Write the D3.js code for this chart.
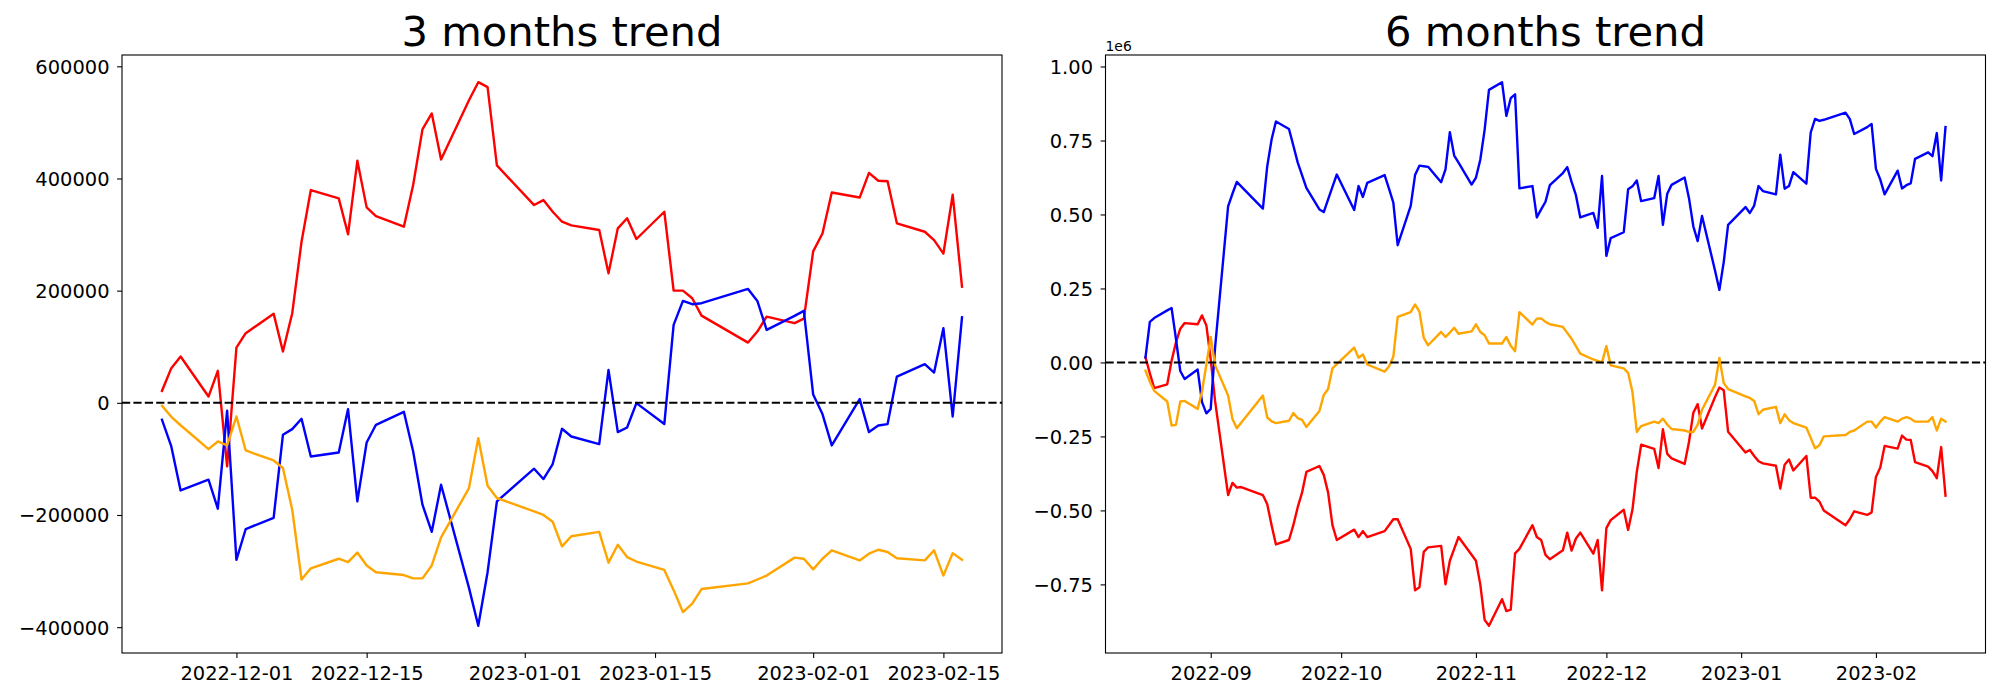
<!DOCTYPE html>
<html>
<head>
<meta charset="utf-8">
<script src="https://cdn.jsdelivr.net/npm/d3@7/dist/d3.min.js"></script>
<style>
  body { margin: 0; background: #fff; }
  text { font-family: "DejaVu Sans", sans-serif; }
</style>
</head>
<body>
<svg id="chart" width="2000" height="700"></svg>
<script>
// ---- 3 months panel ----
const dates3m = ['2022-11-23','2022-11-24','2022-11-25','2022-11-28','2022-11-29','2022-11-30',
  '2022-12-01','2022-12-02','2022-12-05','2022-12-06','2022-12-07','2022-12-08','2022-12-09',
  '2022-12-12','2022-12-13','2022-12-14','2022-12-15','2022-12-16','2022-12-19','2022-12-20',
  '2022-12-21','2022-12-22','2022-12-23','2022-12-26','2022-12-27','2022-12-28','2022-12-29',
  '2023-01-02','2023-01-03','2023-01-04','2023-01-05','2023-01-06','2023-01-09','2023-01-10',
  '2023-01-11','2023-01-12','2023-01-13','2023-01-16','2023-01-17','2023-01-18','2023-01-19',
  '2023-01-20','2023-01-25','2023-01-26','2023-01-27','2023-01-30','2023-01-31','2023-02-01',
  '2023-02-02','2023-02-03','2023-02-06','2023-02-07','2023-02-08','2023-02-09','2023-02-10',
  '2023-02-13','2023-02-14','2023-02-15','2023-02-16','2023-02-17'];

const red3m = [21400, 61800, 82500, 11200, 57000, -113400,
  98500, 124100, 159000, 91400, 159800, 287300, 379400,
  364600, 300500, 431500, 348500, 333000, 314000, 388300,
  487500, 516000, 434000, 539600, 571700, 562800, 423300,
  352600, 361500, 340700, 322900, 316500, 308100, 231000,
  311100, 329000, 292100, 340700, 200000, 200000, 186500,
  155500, 107400, 127000, 153700, 142000, 150000, 270000,
  302000, 375000, 366000, 410000, 396000, 395000, 320000,
  305000, 290000, 266000, 371000, 207000];

const blue3m = [-30300, -77800, -156200, -137100, -188800, -14200,
  -280000, -225000, -205000, -57000, -46900, -28500, -95600,
  -88500, -11200, -175800, -70700, -39200, -16000, -86700,
  -181700, -230000, -146000, -330000, -397600, -302000, -175800,
  -117500, -135900, -109200, -46300, -60000, -73600, 58800,
  -52200, -44000, -500, -37900, 138900, 181700, 175800,
  177600, 203000, 181700, 130000, 155000, 164000, 15000,
  -20000, -76000, 6600, -52200, -40400, -37900, 46800,
  68900, 54000, 133000, -24400, 152600];

const orange3m = [-5300, -25000, -40000, -82500, -68900, -76000,
  -24400, -85000, -102800, -116300, -190600, -315000, -295000,
  -278000, -284000, -267000, -290000, -302000, -307000, -313000,
  -313000, -290000, -240000, -152000, -62900, -147800, -169700,
  -193600, -200000, -212000, -256000, -238000, -230000, -285000,
  -253000, -275000, -283000, -298000, -334000, -373000, -358000,
  -332000, -322000, -315000, -308000, -276000, -278000, -297000,
  -278000, -263000, -281000, -269000, -262000, -266000, -277000,
  -281000, -263000, -308000, -268000, -280000];

const xTicks3m = ['2022-12-01','2022-12-15','2023-01-01','2023-01-15','2023-02-01','2023-02-15'];
const yTicks3m = [-400000, -200000, 0, 200000, 400000, 600000];

// ---- 6 months panel ----
const dates6m = ['2022-08-17','2022-08-18','2022-08-19','2022-08-22','2022-08-23','2022-08-24',
  '2022-08-25','2022-08-26','2022-08-29','2022-08-30','2022-08-31',
  '2022-09-01','2022-09-02','2022-09-05','2022-09-06','2022-09-07','2022-09-08','2022-09-13',
  '2022-09-14','2022-09-15','2022-09-16','2022-09-19','2022-09-20','2022-09-21','2022-09-22',
  '2022-09-23','2022-09-26','2022-09-27','2022-09-28','2022-09-29','2022-09-30',
  '2022-10-04','2022-10-05','2022-10-06','2022-10-07','2022-10-11','2022-10-12','2022-10-13',
  '2022-10-14','2022-10-17','2022-10-18','2022-10-19','2022-10-20','2022-10-21','2022-10-24',
  '2022-10-25','2022-10-26','2022-10-27','2022-10-28','2022-10-31',
  '2022-11-01','2022-11-02','2022-11-03','2022-11-04','2022-11-07','2022-11-08','2022-11-09',
  '2022-11-10','2022-11-11','2022-11-14','2022-11-15','2022-11-16','2022-11-17','2022-11-18',
  '2022-11-21','2022-11-22','2022-11-23','2022-11-24','2022-11-25','2022-11-28','2022-11-29',
  '2022-11-30',
  '2022-12-01','2022-12-02','2022-12-05','2022-12-06','2022-12-07','2022-12-08','2022-12-09',
  '2022-12-12','2022-12-13','2022-12-14','2022-12-15','2022-12-16','2022-12-19','2022-12-20',
  '2022-12-21','2022-12-22','2022-12-23','2022-12-26','2022-12-27','2022-12-28','2022-12-29',
  '2023-01-02','2023-01-03','2023-01-04','2023-01-05','2023-01-06','2023-01-09','2023-01-10',
  '2023-01-11','2023-01-12','2023-01-13','2023-01-16','2023-01-17','2023-01-18','2023-01-19',
  '2023-01-20','2023-01-25','2023-01-26','2023-01-27','2023-01-30','2023-01-31',
  '2023-02-01','2023-02-02','2023-02-03','2023-02-06','2023-02-07','2023-02-08','2023-02-09',
  '2023-02-10','2023-02-13','2023-02-14','2023-02-15','2023-02-16','2023-02-17'];

const blue6m = [17000, 137000, 150000, 176000, 184000, 80000, -29000, -56000, -24000, -134000, -172000,
  -157000, 50000, 527000, 570000, 610000, 595000, 520000, 663000, 753000, 814000, 789000, 733000,
  676000, 633000, 590000, 517000, 508000, 551000, 593000, 635000,
  515000, 596000, 559000, 607000, 633000, 587000, 540000, 396000, 529000, 633000, 665000, 663000,
  661000, 609000, 652000, 778000, 699000, 675000, 601000,
  624000, 685000, 786000, 921000, 947000, 833000, 893000, 906000, 588000, 596000, 490000, 517000,
  543000, 599000, 640000, 660000, 610000, 565000, 490000, 505000, 455000, 630000,
  360000, 420000, 440000, 585000, 595000, 615000, 545000, 555000, 630000, 465000, 570000, 600000,
  625000, 555000, 460000, 410000, 495000, 310000, 245000, 340000, 465000,
  525000, 505000, 530000, 596000, 579000, 568000, 702000, 587000, 596000, 643000, 604000, 777000,
  823000, 816000, 820000, 844000, 822000, 772000, 795000, 806000,
  654000, 618000, 568000, 648000, 588000, 599000, 605000, 688000, 710000, 697000, 775000, 615000, 795000];

const red6m = [17000, -37000, -87000, -74000, 6000, 67000, 114000, 133000, 129000, 159000, 125000,
  10000, -130000, -448000, -407000, -423000, -421000, -448000, -479000, -550000, -615000, -600000,
  -550000, -490000, -440000, -370000, -350000, -380000, -440000, -550000, -600000,
  -565000, -590000, -570000, -590000, -570000, -550000, -530000, -530000, -630000, -770000, -760000,
  -640000, -625000, -620000, -750000, -670000, -630000, -590000, -650000,
  -670000, -750000, -870000, -890000, -800000, -840000, -835000, -645000, -630000, -550000, -590000,
  -600000, -650000, -665000, -635000, -575000, -636000, -595000, -575000, -646000, -600000, -770000,
  -560000, -533000, -498000, -566000, -497000, -370000, -278000, -292000, -357000, -226000, -309000,
  -324000, -343000, -269000, -170000, -141000, -223000, -117000, -85000, -94000, -234000,
  -304000, -296000, -316000, -334000, -341000, -349000, -426000, -346000, -328000, -365000, -316000,
  -457000, -457000, -470000, -500000, -550000, -530000, -503000, -515000, -507000,
  -387000, -355000, -282000, -291000, -247000, -261000, -262000, -337000, -352000, -367000, -391000,
  -286000, -450000];

const orange6m = [-28000, -65000, -96000, -132000, -213000, -211000, -132000, -130000, -157000, -98000, -7000,
  86000, -9000, -112000, -191000, -222000, -204000, -112000, -186000, -199000, -205000, -197000,
  -171000, -188000, -194000, -218000, -164000, -110000, -90000, -20000, -6000,
  50000, 16000, 27000, -7000, -31000, -14000, 19000, 154000, 170000, 196000, 172000, 83000,
  58000, 103000, 86000, 101000, 117000, 97000, 105000,
  129000, 103000, 92000, 64000, 64000, 86000, 56000, 38000, 170000, 128000, 148000, 149000,
  137000, 129000, 120000, 100000, 80000, 55000, 30000, 10000, 5000, 0,
  55000, -10000, -20000, -35000, -100000, -235000, -215000, -200000, -205000, -190000, -210000,
  -225000, -230000, -235000, -235000, -210000, -160000, -75000, 15000, -70000, -90000,
  -115000, -120000, -130000, -175000, -160000, -150000, -205000, -175000, -195000, -205000, -220000,
  -255000, -290000, -280000, -250000, -245000, -235000, -230000, -200000, -200000,
  -220000, -200000, -185000, -200000, -190000, -185000, -190000, -200000, -200000, -185000, -230000,
  -190000, -200000];

const xTicks6m = ['2022-09-01','2022-10-01','2022-11-01','2022-12-01','2023-01-01','2023-02-01'];
const yTicks6m = [-750000, -500000, -250000, 0, 250000, 500000, 750000, 1000000];

const seriesColors = ['red', 'blue', 'orange'];

// ---- layout (matplotlib-like) ----
const axTop = 55, axBottom = 653;
const fontSize = 19.44;
const parseDate = d3.timeParse('%Y-%m-%d');

const panels = [
  { title: '3 months trend', left: 122, right: 1002, dates: dates3m,
    series: [red3m, blue3m, orange3m], xTicks: xTicks3m, xFormat: d3.timeFormat('%Y-%m-%d'),
    yTicks: yTicks3m, yFormat: d3.format('d'), offsetLabel: null },
  { title: '6 months trend', left: 1105.5, right: 1985.5, dates: dates6m,
    series: [red6m, blue6m, orange6m], xTicks: xTicks6m, xFormat: d3.timeFormat('%Y-%m'),
    yTicks: yTicks6m, yFormat: v => d3.format('.2f')(v / 1e6), offsetLabel: '1e6' }
];

const svg = d3.select('#chart');

function padded(ext) {
  const m = (ext[1] - ext[0]) * 0.05;
  return [ext[0] - m, ext[1] + m];
}

panels.forEach((p, i) => {
  const dates = p.dates.map(parseDate);
  const xExt = padded(d3.extent(dates, d => +d));
  const yExt = padded(d3.extent(p.series.flat()));

  const x = d3.scaleTime().domain(xExt.map(v => new Date(v))).range([p.left, p.right]);
  const y = d3.scaleLinear().domain(yExt).range([axBottom, axTop]);

  const g = svg.append('g').attr('class', 'panel');

  g.append('clipPath').attr('id', 'clip' + i)
    .append('rect')
    .attr('x', p.left).attr('y', axTop)
    .attr('width', p.right - p.left).attr('height', axBottom - axTop);

  const plot = g.append('g').attr('clip-path', `url(#clip${i})`);

  const line = d3.line()
    .x((d, k) => x(dates[k]))
    .y(d => y(d));

  p.series.forEach((vals, s) => {
    plot.append('path')
      .datum(vals)
      .attr('d', line)
      .attr('fill', 'none')
      .attr('stroke', seriesColors[s])
      .attr('stroke-width', 2.4)
      .attr('stroke-linejoin', 'round')
      .attr('stroke-linecap', 'square');
  });

  // zero line
  plot.append('line')
    .attr('x1', p.left).attr('x2', p.right)
    .attr('y1', y(0)).attr('y2', y(0))
    .attr('stroke', 'black')
    .attr('stroke-width', 2.1)
    .attr('stroke-dasharray', '8.2,3.2');

  // axes
  const xAxis = d3.axisBottom(x)
    .tickValues(p.xTicks.map(parseDate))
    .tickFormat(p.xFormat)
    .tickSize(4.9).tickPadding(7.8);
  const yAxis = d3.axisLeft(y)
    .tickValues(p.yTicks)
    .tickFormat(p.yFormat)
    .tickSize(4.9).tickPadding(7.6);

  const gx = g.append('g').attr('transform', `translate(0,${axBottom})`).call(xAxis);
  const gy = g.append('g').attr('transform', `translate(${p.left},0)`).call(yAxis);

  [gx, gy].forEach(ax => {
    ax.select('.domain').remove();
    ax.attr('font-size', null).attr('font-family', null);
    ax.selectAll('line').attr('stroke', 'black').attr('stroke-width', 1.1);
    ax.selectAll('text').attr('fill', 'black').style('font-size', fontSize + 'px');
  });
  gy.selectAll('text').attr('dy', '0.36em');

  // frame
  g.append('rect')
    .attr('x', p.left).attr('y', axTop)
    .attr('width', p.right - p.left).attr('height', axBottom - axTop)
    .attr('fill', 'none').attr('stroke', 'black').attr('stroke-width', 1.1);

  // title
  g.append('text')
    .attr('x', (p.left + p.right) / 2).attr('y', 46)
    .attr('text-anchor', 'middle')
    .style('font-size', '41.67px')
    .text(p.title);

  if (p.offsetLabel) {
    g.append('text')
      .attr('x', p.left).attr('y', 50.5)
      .style('font-size', '13.9px')
      .text(p.offsetLabel);
  }
});
</script>
</body>
</html>
